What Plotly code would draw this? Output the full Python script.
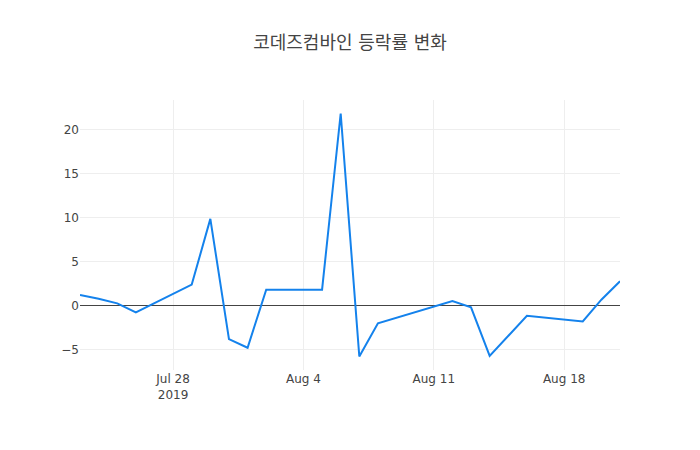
import plotly.graph_objects as go

dates = ["2019-07-23", "2019-07-24", "2019-07-25", "2019-07-26", "2019-07-29", "2019-07-30",
         "2019-07-31", "2019-08-01", "2019-08-02", "2019-08-05", "2019-08-06", "2019-08-07",
         "2019-08-08", "2019-08-12", "2019-08-13", "2019-08-14", "2019-08-16", "2019-08-19",
         "2019-08-20", "2019-08-21"]
change = [1.21, 0.8, 0.27, -0.76, 2.39, 9.85,
          -3.79, -4.77, 1.82, 1.82, 21.8, -5.76,
          -2.0, 0.53, -0.19, -5.7, -1.14, -1.78,
          0.68, 2.77]

W, H = 684, 434
fig = go.Figure(go.Scatter(x=dates, y=change, mode="lines",
                           line=dict(color="#1482ec", width=2)))
fig.update_layout(
    template="none",
    width=W, height=H,
    margin=dict(l=72, r=72, t=92, b=72),
    title=dict(text="코데즈컴바인 등락률 변화", x=(350 - 8) / W, xanchor="center",
               y=1 - 35 / H, yanchor="middle", yref="container",
               font=dict(size=18, color="#444")),
    font=dict(family='"DejaVu Sans", "Noto Sans CJK KR", verdana, sans-serif',
              size=12, color="#444"),
    plot_bgcolor="white", paper_bgcolor="white",
    xaxis=dict(showgrid=True, gridcolor="#eee", zeroline=False, ticks=""),
    yaxis=dict(showgrid=True, gridcolor="#eee", zeroline=True,
               zerolinecolor="#444", zerolinewidth=1, ticks=""),
)
fig.write_html("out.html")
